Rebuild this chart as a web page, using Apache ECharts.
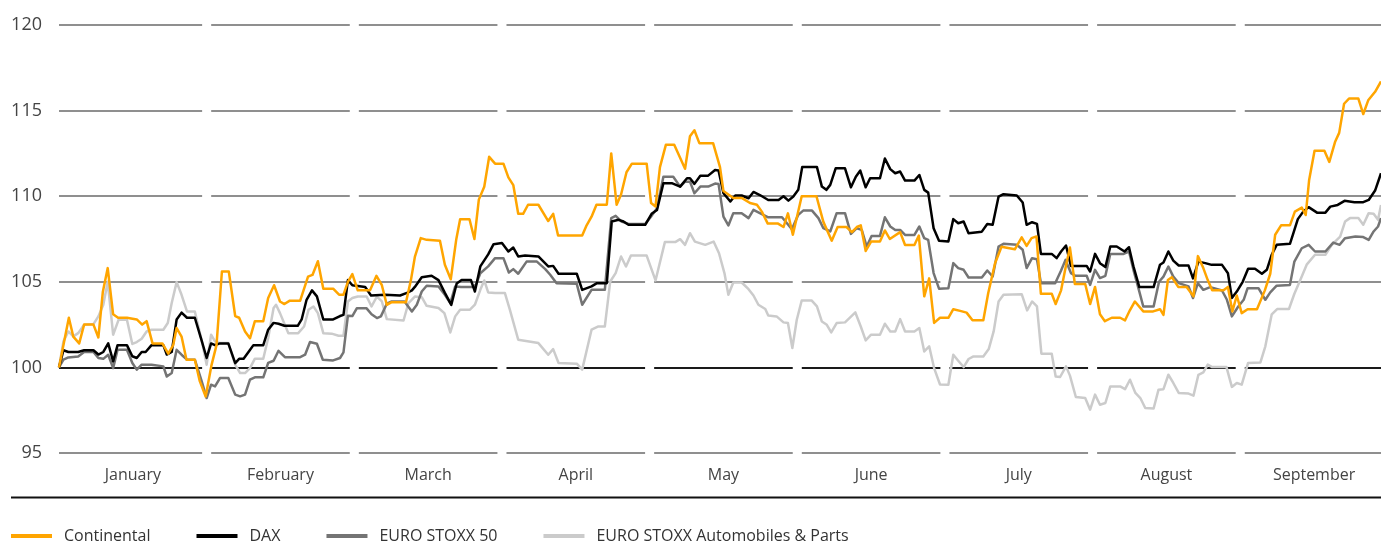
<!DOCTYPE html>
<html>
<head>
<meta charset="utf-8">
<script src="https://cdn.jsdelivr.net/npm/echarts@6/dist/echarts.min.js"></script>
<style>
  html, body { margin: 0; padding: 0; background: #fff; }
  #main { width: 1381px; height: 543px; }
</style>
</head>
<body>
<div id="main"></div>
<script>
// x = day position (30 units per month), y = index value (start = 100)
var months = ['January', 'February', 'March', 'April', 'May', 'June', 'July', 'August', 'September'];
var yTicks = [95, 100, 105, 110, 115, 120];

var continental = [[0,100],[2.0,102.9],[2.9,101.8],[4.1,101.4],[5.1,102.5],[7.0,102.5],[8.0,101.75],[8.9,104.4],[9.9,105.8],[11.0,103.1],[12.0,102.9],[13.8,102.9],[15.8,102.8],[16.9,102.5],[17.8,102.7],[19.0,101.4],[21.0,101.4],[22.2,100.8],[23.2,101.3],[23.9,102.3],[24.9,101.8],[25.9,100.45],[27.6,100.45],[28.6,99.2],[29.8,98.3],[31.0,100.15],[32.0,101.3],[33.1,105.6],[34.5,105.6],[35.8,103.0],[36.6,102.9],[37.8,102.1],[38.8,101.7],[39.8,102.7],[41.5,102.7],[42.5,104.05],[43.7,104.8],[44.9,103.85],[45.8,103.7],[46.9,103.9],[49.0,103.9],[50.6,105.3],[51.5,105.4],[52.6,106.2],[53.7,104.6],[55.7,104.6],[56.9,104.25],[57.8,104.25],[58.7,105.0],[59.6,105.45],[60.7,104.5],[63.2,104.5],[64.5,105.35],[65.6,104.8],[66.6,103.65],[67.5,103.8],[70.5,103.8],[71.5,105.1],[72.3,106.45],[73.5,107.55],[74.7,107.45],[77.4,107.4],[78.4,106.0],[79.6,105.15],[80.7,107.45],[81.5,108.65],[83.4,108.65],[84.4,107.5],[85.3,109.8],[86.4,110.55],[87.4,112.3],[88.6,111.9],[90.3,111.9],[91.3,111.1],[92.3,110.65],[93.3,108.97],[94.3,108.97],[95.3,109.5],[97.4,109.5],[99.4,108.55],[100.4,108.97],[101.4,107.7],[106.3,107.7],[107.2,108.3],[108.2,108.8],[109.2,109.5],[111.3,109.5],[112.2,112.5],[113.3,109.5],[114.2,110.1],[115.3,111.4],[116.4,111.9],[119.4,111.9],[120.3,109.6],[121.2,109.4],[122.1,111.7],[123.3,113.0],[125.0,113.0],[127.2,111.6],[128.2,113.5],[129.1,113.85],[130.1,113.1],[132.9,113.1],[134.3,111.7],[135.0,110.3],[137.0,109.9],[138.7,109.9],[140.4,109.6],[141.8,109.5],[142.8,109.1],[144.0,108.4],[146.1,108.4],[147.2,108.2],[148.1,109.0],[149.1,107.75],[150.9,110.0],[153.9,110.0],[155.3,108.5],[157.0,107.4],[158.2,108.2],[160.0,108.2],[161.1,107.9],[162.1,108.2],[162.9,108.3],[163.9,106.8],[165.0,107.35],[166.8,107.35],[167.8,108.0],[168.8,107.5],[170.9,107.9],[171.9,107.15],[173.8,107.15],[174.7,107.7],[175.8,104.15],[176.8,105.2],[177.8,102.6],[179.0,102.9],[180.7,102.9],[181.7,103.4],[183.1,103.3],[184.4,103.2],[185.6,102.75],[187.8,102.75],[188.8,104.35],[190.2,106.1],[191.5,107.05],[194.2,106.9],[195.6,107.6],[196.6,107.1],[197.6,107.55],[198.6,107.65],[199.5,104.3],[201.7,104.3],[202.5,103.7],[203.6,104.5],[204.5,105.8],[205.4,107.0],[206.4,104.87],[208.5,104.87],[209.5,103.7],[210.5,104.7],[211.5,103.1],[212.5,102.7],[213.9,102.9],[215.6,102.9],[216.6,102.75],[217.6,103.35],[218.6,103.85],[220.3,103.27],[222.3,103.27],[223.7,103.4],[224.4,103.07],[225.3,105.1],[226.1,105.27],[227.4,104.7],[229.1,104.7],[230.5,104.15],[231.4,106.5],[232.5,105.8],[233.4,105.1],[234.3,104.5],[236.6,104.5],[237.5,104.7],[238.4,103.27],[239.3,104.2],[240.3,103.17],[241.5,103.4],[243.4,103.4],[245.0,104.5],[246.1,105.47],[247.1,107.75],[248.3,108.3],[250.1,108.3],[251.1,109.1],[252.5,109.33],[253.3,108.9],[254.0,110.95],[255.1,112.66],[257.1,112.66],[258.1,112.0],[259.3,113.2],[260.1,113.7],[261.1,115.4],[262.1,115.7],[264.0,115.7],[265.0,114.8],[266.0,115.6],[267.4,116.1],[268.6,116.7]];

var dax = [[0,100],[0.9,101.0],[1.9,100.9],[3.9,100.9],[5.1,101.0],[7.0,101.0],[8.0,100.75],[9.0,100.9],[10.0,101.4],[11.0,100.35],[11.9,101.3],[13.8,101.3],[14.9,100.65],[15.8,100.55],[16.8,100.9],[17.6,100.9],[18.8,101.3],[21.2,101.3],[21.9,100.75],[22.9,100.9],[23.9,102.8],[24.9,103.2],[26.0,102.9],[27.6,102.9],[29.0,101.55],[30.0,100.55],[30.9,101.4],[31.7,101.3],[32.7,101.4],[34.4,101.4],[35.8,100.25],[36.6,100.5],[37.5,100.5],[38.5,100.9],[39.5,101.3],[41.5,101.3],[42.5,102.2],[43.6,102.6],[44.6,102.55],[45.8,102.43],[48.5,102.43],[49.3,102.8],[50.3,103.95],[51.4,104.5],[52.4,104.15],[53.7,102.8],[55.7,102.8],[57.1,103.0],[57.8,103.07],[58.7,105.1],[59.6,104.8],[62.2,104.7],[63.4,104.2],[66.2,104.25],[69.3,104.2],[70.7,104.35],[71.7,104.5],[72.3,104.7],[73.7,105.27],[75.7,105.35],[77.1,105.1],[78.4,104.35],[79.7,103.65],[80.8,104.9],[81.8,105.1],[83.7,105.1],[84.5,104.43],[85.6,105.9],[87.2,106.6],[88.3,107.2],[90.0,107.26],[91.3,106.77],[92.3,107.0],[93.3,106.48],[94.7,106.53],[97.4,106.48],[99.4,105.9],[100.4,105.93],[101.5,105.47],[105.2,105.47],[106.3,104.53],[108.2,104.73],[109.3,104.92],[111.3,104.92],[112.3,108.52],[113.7,108.62],[114.7,108.52],[115.7,108.33],[119.1,108.33],[120.4,108.97],[121.5,109.2],[122.8,110.76],[124.5,110.76],[126.2,110.56],[127.6,111.05],[128.2,111.05],[129.1,110.72],[130.3,111.2],[131.9,111.2],[133.3,111.53],[134.0,111.5],[135.0,110.17],[136.4,109.69],[137.4,110.04],[138.7,110.04],[140.1,109.88],[141.1,110.25],[142.4,110.07],[144.1,109.78],[146.2,109.78],[147.2,110.0],[148.2,109.74],[149.2,109.98],[150.2,110.37],[151.0,111.7],[154.0,111.7],[155.0,110.56],[155.9,110.37],[156.7,110.66],[157.8,111.63],[159.7,111.63],[160.9,110.52],[161.9,111.14],[162.8,111.5],[163.9,110.52],[164.8,111.05],[166.8,111.05],[167.8,112.2],[168.9,111.58],[169.9,111.34],[170.9,111.44],[171.9,110.91],[173.8,110.91],[174.8,111.24],[175.8,110.37],[176.6,110.21],[177.7,108.13],[178.8,107.4],[180.7,107.35],[181.7,108.66],[182.7,108.42],[183.8,108.52],[184.8,107.84],[187.5,107.93],[188.6,108.38],[189.7,108.33],[190.9,109.98],[191.9,110.12],[194.6,110.04],[195.8,109.63],[196.6,108.33],[197.7,108.48],[198.7,108.38],[199.5,106.63],[201.7,106.63],[202.7,106.38],[203.6,106.77],[204.6,107.12],[205.6,105.93],[208.8,105.93],[209.5,105.6],[210.5,106.63],[211.5,106.09],[212.6,105.86],[213.6,107.06],[214.9,107.06],[216.5,106.77],[217.4,107.02],[218.3,105.9],[219.5,104.69],[222.4,104.69],[223.7,106.0],[224.4,106.13],[225.4,106.77],[226.4,106.24],[227.5,105.95],[229.5,105.95],[230.4,105.2],[231.5,106.18],[232.9,106.09],[234.2,105.99],[236.3,105.99],[237.5,105.5],[238.3,104.05],[239.3,104.43],[240.5,105.0],[241.6,105.76],[243.0,105.76],[244.4,105.47],[245.4,105.7],[246.4,106.58],[247.4,107.16],[250.1,107.22],[250.8,107.84],[251.7,108.66],[252.8,109.1],[253.9,109.36],[255.6,109.04],[257.3,109.04],[258.3,109.39],[259.8,109.49],[261.2,109.73],[263.2,109.65],[265.0,109.65],[266.1,109.78],[267.4,110.33],[268.6,111.34]];

var stoxx50 = [[0,100],[0.9,100.45],[1.9,100.58],[3.9,100.64],[5.1,100.9],[7.0,100.9],[8.0,100.55],[9.0,100.5],[10.0,100.74],[11.0,99.96],[11.9,101.03],[13.8,101.03],[14.9,100.26],[15.8,99.87],[16.8,100.16],[18.8,100.16],[21.2,100.06],[21.9,99.47],[22.9,99.67],[23.9,101.03],[24.9,100.74],[26.0,100.45],[27.6,100.45],[29.0,99.18],[30.0,98.21],[30.9,98.99],[31.7,98.89],[32.7,99.38],[34.4,99.38],[35.8,98.41],[36.8,98.31],[37.8,98.41],[38.8,99.28],[39.8,99.42],[41.5,99.42],[42.5,100.26],[43.6,100.39],[44.6,100.97],[45.9,100.6],[49.0,100.6],[50.0,100.74],[51.0,101.48],[52.4,101.38],[53.6,100.45],[55.7,100.41],[57.1,100.55],[57.8,100.88],[58.7,103.02],[59.6,103.0],[60.5,103.45],[62.5,103.45],[63.5,103.1],[64.6,102.88],[65.4,102.98],[66.6,103.72],[67.6,103.85],[70.2,103.85],[71.7,103.27],[72.7,103.66],[73.7,104.43],[74.7,104.77],[77.1,104.73],[78.4,104.24],[79.5,103.76],[80.5,104.73],[81.7,104.69],[83.9,104.69],[84.7,104.82],[85.6,105.5],[87.2,105.9],[88.6,106.38],[90.3,106.38],[91.4,105.54],[92.3,105.74],[93.3,105.47],[95.0,106.18],[97.1,106.18],[98.8,105.74],[99.8,105.41],[101.1,104.92],[105.2,104.88],[106.3,103.66],[108.2,104.53],[110.9,104.53],[112.2,108.72],[113.1,108.85],[114.3,108.52],[115.7,108.38],[119.1,108.38],[120.4,108.85],[121.5,109.3],[122.8,111.14],[124.8,111.14],[126.2,110.56],[127.2,110.85],[128.2,110.85],[129.1,110.17],[130.3,110.56],[131.9,110.56],[133.3,110.74],[134.0,110.72],[135.0,108.81],[136.0,108.29],[137.0,109.01],[138.7,109.01],[140.1,108.72],[141.1,109.2],[142.4,109.01],[144.1,108.77],[146.9,108.77],[147.9,108.42],[148.9,108.07],[150.2,108.91],[151.2,109.16],[153.0,109.16],[154.3,108.72],[155.3,108.13],[156.7,107.94],[158.0,109.01],[159.7,109.01],[160.9,107.8],[162.1,108.13],[163.1,108.03],[164.1,107.06],[165.1,107.68],[166.8,107.68],[167.8,108.77],[168.9,108.23],[169.9,108.03],[170.9,108.03],[171.9,107.74],[173.8,107.74],[174.8,108.23],[175.8,107.55],[176.6,107.45],[177.7,105.51],[178.8,104.6],[180.7,104.63],[181.7,106.09],[182.7,105.8],[183.8,105.7],[184.8,105.25],[187.5,105.25],[188.6,105.66],[189.7,105.31],[190.9,107.06],[191.9,107.22],[194.6,107.16],[195.8,106.87],[196.6,105.8],[197.7,106.38],[198.7,106.32],[199.5,104.92],[202.4,104.92],[203.6,105.66],[204.5,106.28],[205.6,105.51],[206.5,105.35],[208.8,105.35],[209.5,104.82],[210.5,105.7],[211.5,105.22],[212.6,105.35],[213.6,106.63],[216.3,106.63],[217.4,106.77],[218.3,105.7],[219.5,104.43],[220.3,103.56],[222.4,103.56],[223.5,105.0],[224.4,105.3],[225.4,105.89],[226.4,105.3],[227.5,104.92],[229.5,104.73],[230.4,104.05],[231.4,104.92],[232.5,104.53],[233.9,104.69],[236.3,104.49],[237.3,103.95],[238.3,102.98],[239.6,103.56],[240.7,103.95],[241.5,104.63],[243.7,104.63],[245.1,103.95],[246.1,104.38],[247.4,104.77],[250.1,104.82],[251.0,106.18],[252.5,106.96],[253.9,107.16],[255.2,106.77],[257.3,106.77],[258.9,107.29],[260.2,107.16],[261.3,107.55],[263.4,107.64],[265.0,107.61],[266.1,107.45],[267.1,107.94],[268.0,108.23],[268.6,108.72]];

var autos = [[0,100],[0.9,101.52],[1.9,102.1],[2.9,101.81],[3.9,102.0],[5.1,102.49],[7.0,102.53],[8.0,102.98],[9.0,103.66],[9.9,105.0],[11.0,101.91],[12.1,102.78],[13.8,102.78],[14.9,101.37],[15.8,101.48],[16.8,101.67],[17.8,102.1],[18.8,102.2],[21.2,102.2],[22.1,102.59],[22.9,103.76],[23.9,104.98],[24.9,104.24],[26.0,103.27],[27.6,103.27],[29.0,101.56],[30.0,100.16],[30.9,101.91],[31.7,101.52],[32.7,101.42],[34.4,101.42],[35.8,100.16],[36.8,99.67],[37.8,99.67],[38.8,99.96],[39.8,100.51],[41.5,100.51],[42.5,101.72],[43.6,103.47],[44.1,103.66],[44.9,103.17],[46.6,102.0],[48.6,102.0],[49.8,102.39],[50.7,103.37],[51.7,103.56],[52.6,103.17],[53.7,102.0],[55.4,101.97],[56.8,101.85],[57.8,101.85],[58.7,103.85],[59.6,104.05],[60.7,104.14],[62.5,104.14],[63.5,103.56],[64.6,104.14],[65.6,103.85],[66.6,102.82],[70.0,102.74],[71.0,103.76],[72.3,104.14],[73.7,104.1],[74.7,103.6],[77.1,103.47],[78.3,103.17],[79.5,102.04],[80.5,102.98],[81.5,103.37],[83.5,103.37],[84.5,103.66],[85.6,104.53],[86.4,105.08],[87.2,104.38],[88.6,104.34],[90.6,104.34],[91.6,103.37],[93.3,101.62],[97.4,101.42],[99.4,100.74],[100.4,101.07],[101.5,100.26],[105.2,100.22],[106.3,99.87],[108.2,102.2],[109.6,102.39],[110.9,102.39],[112.0,105.02],[113.1,105.51],[114.2,106.48],[115.2,105.89],[116.2,106.53],[119.4,106.53],[121.2,105.08],[123.1,107.32],[125.2,107.32],[126.2,107.49],[127.2,107.16],[128.2,107.84],[129.2,107.35],[131.3,107.16],[133.0,107.35],[134.1,106.67],[135.2,105.51],[136.0,104.24],[137.0,104.96],[138.7,104.96],[140.1,104.57],[141.1,104.2],[142.1,103.66],[143.5,103.41],[144.1,103.03],[145.8,102.98],[147.2,102.63],[148.1,102.59],[149.0,101.13],[149.9,102.78],[150.9,103.91],[152.9,103.91],[154.0,103.56],[155.0,102.68],[156.0,102.49],[156.9,102.04],[158.0,102.59],[159.7,102.63],[161.8,103.21],[162.9,102.39],[163.9,101.58],[165.0,101.91],[166.8,101.91],[167.8,102.55],[168.9,102.1],[169.9,102.1],[170.9,102.82],[171.9,102.1],[173.8,102.1],[174.8,102.3],[175.8,100.93],[176.8,101.23],[177.8,99.96],[179.0,99.0],[180.7,98.99],[181.7,100.74],[182.7,100.39],[183.8,100.02],[184.8,100.49],[185.8,100.64],[187.8,100.64],[188.9,101.07],[189.9,102.1],[190.9,103.85],[191.9,104.24],[195.6,104.28],[196.7,103.33],[197.7,103.85],[198.7,103.56],[199.6,100.8],[201.7,100.8],[202.5,99.47],[203.4,99.44],[204.6,100.06],[205.4,99.52],[206.6,98.27],[208.5,98.21],[209.5,97.53],[210.5,98.41],[211.5,97.82],[212.6,97.92],[213.6,98.89],[215.6,98.89],[216.6,98.73],[217.6,99.28],[218.7,98.51],[219.7,98.21],[220.7,97.63],[222.4,97.6],[223.4,98.7],[224.4,98.73],[225.4,99.57],[226.4,99.09],[227.5,98.51],[229.5,98.47],[230.5,98.35],[231.5,99.57],[232.5,99.71],[233.4,100.16],[234.3,100.02],[237.2,100.02],[238.3,98.86],[239.3,99.09],[240.3,98.99],[241.6,100.26],[244.1,100.29],[245.1,101.23],[246.4,103.1],[247.5,103.41],[249.9,103.41],[251.0,104.3],[252.2,105.1],[253.5,106.0],[255.2,106.58],[257.3,106.58],[258.6,107.16],[260.3,107.64],[261.3,108.52],[262.3,108.72],[264.0,108.72],[265.0,108.33],[266.1,109.01],[267.1,108.97],[268.0,108.62],[268.6,109.49]];

var monthLen = 30;
var gapHalf = 0.92;
var xEnd = 268.6;

// gridline segments, broken between months
var gridSegs = [];
yTicks.forEach(function (t) {
    months.forEach(function (m, i) {
        var x0 = i === 0 ? 0 : i * monthLen + gapHalf;
        var x1 = Math.min((i + 1) * monthLen - gapHalf, xEnd);
        var isBase = t === 100;
        gridSegs.push([
            { coord: [x0, t], lineStyle: { color: isBase ? '#1a1a1a' : '#6a6a6a', width: isBase ? 2 : 1.5, type: 'solid' } },
            { coord: [x1, t] }
        ]);
    });
});

var labelValues = months.map(function (m, i) { return i * monthLen + monthLen / 2; });

var dom = document.getElementById('main');
var myChart = echarts.init(dom);
var font = 'Open Sans';

function lineSeries(name, data, color, extra) {
    var s = {
        name: name,
        type: 'line',
        data: data,
        showSymbol: false,
        symbol: 'none',
        animation: false,
        lineStyle: { color: color, width: 2.5, join: 'round' },
        itemStyle: { color: color }
    };
    if (extra) { for (var k in extra) s[k] = extra[k]; }
    return s;
}

var option = {
    backgroundColor: '#fff',
    animation: false,
    textStyle: { fontFamily: font },
    grid: { left: 59, right: 0, top: 25, bottom: 90 },
    xAxis: {
        type: 'value',
        min: 0,
        max: xEnd,
        axisLine: { show: false },
        axisTick: { show: false },
        splitLine: { show: false },
        axisLabel: {
            customValues: labelValues,
            margin: 14,
            color: '#444',
            fontSize: 16,
            fontFamily: font,
            formatter: function (v) {
                return months[Math.round((v - monthLen / 2) / monthLen)];
            }
        }
    },
    yAxis: {
        type: 'value',
        min: 95,
        max: 120,
        interval: 5,
        axisLine: { show: false },
        axisTick: { show: false },
        splitLine: { show: false },
        axisLabel: { margin: 17, color: '#444', fontSize: 18, fontFamily: font }
    },
    legend: {
        data: ['Continental', 'DAX', 'EURO STOXX 50', 'EURO STOXX Automobiles & Parts'],
        left: 11,
        top: 528,
        padding: 0,
        icon: 'rect',
        itemWidth: 41,
        itemHeight: 4,
        itemGap: 46,
        selectedMode: false,
        textStyle: { color: '#333', fontSize: 16, fontFamily: font, padding: [0, 0, 0, 7] }
    },
    graphic: [{
        type: 'line',
        shape: { x1: 11, y1: 497.5, x2: 1381, y2: 497.5 },
        style: { stroke: '#111', lineWidth: 2 }
    }],
    series: [
        lineSeries('EURO STOXX Automobiles & Parts', autos, '#cbcbcb', {
            markLine: {
                z: 1,
                silent: true,
                animation: false,
                symbol: ['none', 'none'],
                label: { show: false },
                data: gridSegs
            }
        }),
        lineSeries('EURO STOXX 50', stoxx50, '#747474'),
        lineSeries('DAX', dax, '#000000'),
        lineSeries('Continental', continental, '#ffa500')
    ]
};

if (option && typeof option === 'object') {
    myChart.setOption(option, true);
}
</script>
</body>
</html>
